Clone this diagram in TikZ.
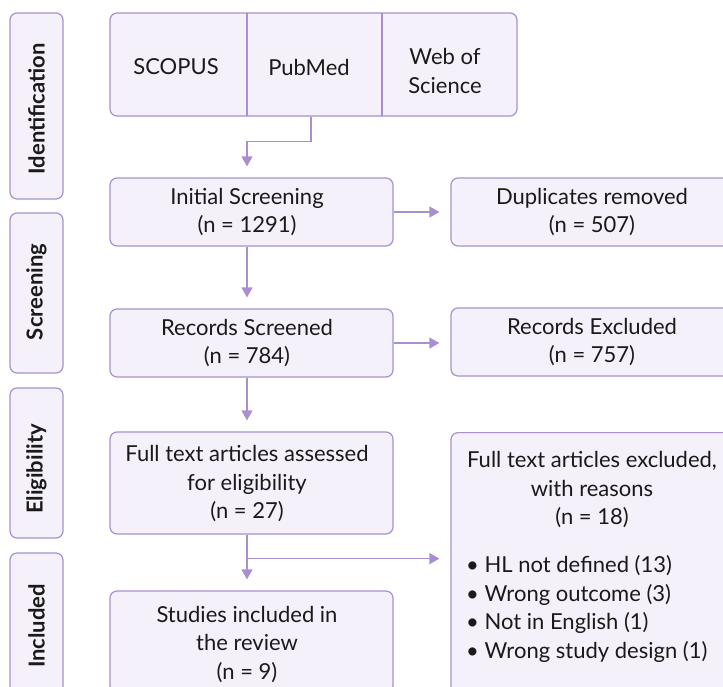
\documentclass[tikz,border=0pt]{standalone}
\usepackage{fontspec}
\setmainfont{Lato}
\usetikzlibrary{arrows.meta}
\definecolor{edge}{HTML}{A98FD0}
\definecolor{panel}{HTML}{F4F1FA}
\definecolor{ink}{HTML}{1A1A1A}
\begin{document}
\begin{tikzpicture}[x=1pt,y=-1pt,
  box/.style={draw=edge, fill=panel, line width=1.2pt, rounded corners=7pt, inner sep=0pt},
  side/.style={box, minimum width=53pt},
  stage/.style={box, minimum width=283pt},
  txt/.style={text=ink, font=\fontsize{22}{28.5}\selectfont, align=center, inner sep=0pt},
  list/.style={txt, align=left},
  sidetxt/.style={text=ink, font=\fontsize{22}{24}\selectfont\bfseries, rotate=90, inner sep=0pt},
  flow/.style={draw=edge, line width=1.2pt, -{Triangle[length=10pt,width=11pt]}, shorten >=11pt},
  link/.style={draw=edge, line width=1.2pt}]
\useasboundingbox (0,0) rectangle (723,686);
\clip (0,0) rectangle (723,686);

% phase labels on the left
\node[side, minimum height=186pt] (ident) at (36.5,106) {};
\node[sidetxt] (identT) at (36.5,109) {Identification};
\node[side, minimum height=160pt] (screen) at (36.5,293) {};
\node[sidetxt] (screenT) at (36.5,292) {Screening};
\node[side, minimum height=150pt] (elig) at (36.5,463) {};
\node[sidetxt] (eligT) at (36.5,469) {Eligibility};
\node[side, minimum height=146pt] (incl) at (36.5,626) {};
\node[sidetxt] (inclT) at (36.5,626) {Included};

% databases
\node[box, minimum width=407pt, minimum height=103pt] (src) at (313.5,64.5) {};
\draw[link] (247,13) -- (247,116);
\draw[link] (382,13) -- (382,116);
\node[txt] (scopus) at (176,67) {SCOPUS};
\node[txt] (pubmed) at (309,67) {PubMed};
\node[txt] (wos) at (445,71) {Web of\\Science};

% main column
\node[stage, minimum height=68pt] (init) at (251.5,212) {};
\node[txt] (initT) at (247,212) {Initial Screening\\(n = 1291)};
\node[stage, minimum height=68pt] (rec) at (251.5,343) {};
\node[txt] (recT) at (247,343) {Records Screened\\(n = 784)};
\node[stage, minimum height=102pt] (full) at (251.5,483) {};
\node[txt] (fullT) at (247,484) {Full text articles assessed\\for eligibility\\(n = 27)};
\node[stage, minimum height=102pt] (stud) at (251.5,642) {};
\node[txt] (studT) at (247,644) {Studies included in\\the review\\(n = 9)};

% exclusions
\node[stage, minimum height=68pt] (dup) at (592.5,212) {};
\node[txt] (dupT) at (592,212) {Duplicates removed\\(n = 507)};
\node[stage, minimum height=68pt] (excl) at (592.5,342) {};
\node[txt] (exclT) at (592,342) {Records Excluded\\(n = 757)};
\node[stage, minimum height=300pt, anchor=north] (fexcl) at (592.5,432) {};
\node[txt] (fexclT) at (592,490) {Full text articles excluded,\\with reasons\\(n = 18)};
\node[list, anchor=west] (fexclL) at (466,609) {\textbullet\ HL not defined (13)\\\textbullet\ Wrong outcome (3)\\\textbullet\ Not in English (1)\\\textbullet\ Wrong study design (1)};

% connectors
\coordinate (srcout) at ([xshift=-2.5pt]src.south);
\draw[flow] (srcout) -- ++(0,25) -| (init.north -| initT);
\draw[flow] (init.south -| initT) -- (rec.north -| initT);
\draw[flow] (rec.south -| recT) -- (full.north -| fullT);
\draw[flow] (full.south -| fullT) -- (stud.north -| studT);
\draw[flow] (init.east) -- (init.east -| dup.west);
\draw[flow] (rec.east) -- (rec.east -| excl.west);
\coordinate (branch) at ([yshift=-24pt]full.south -| fullT);
\draw[flow] (branch) -- (branch -| fexcl.west);
\end{tikzpicture}
\end{document}
